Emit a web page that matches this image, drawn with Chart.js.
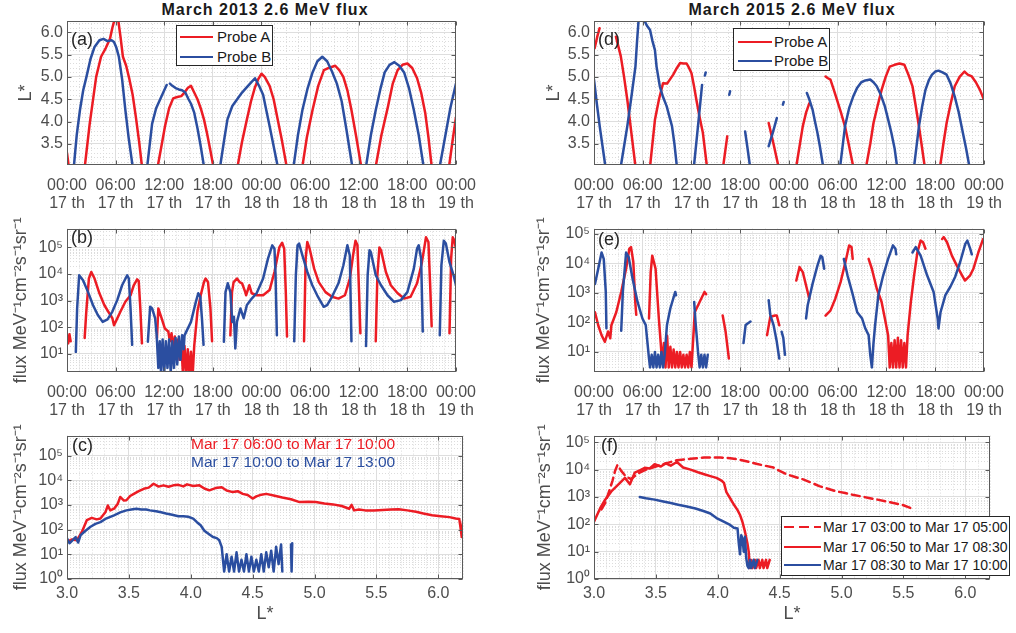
<!DOCTYPE html>
<html>
<head>
<meta charset="utf-8">
<title>March 2013 / March 2015 2.6 MeV flux</title>
<script src="https://cdn.jsdelivr.net/npm/chart.js@4.4.1/dist/chart.umd.min.js"></script>
<style>
  html, body { margin: 0; padding: 0; background: #fff; }
  body { width: 1016px; height: 633px; position: relative; overflow: hidden;
         font-family: "Liberation Sans", Arial, Helvetica, sans-serif; }
  .panel { position: absolute; }
  .title { position: absolute; top: 0; width: 420px; height: 20px; line-height: 20px; text-align: center;
           font-weight: bold; font-size: 16px; letter-spacing: 1px; color: #1a1a1a; }
  .tag { position: absolute; font-size: 18px; line-height: 21px; color: #262626; z-index: 2; }
  .legend { position: absolute; background: #fff; border: 1px solid #262626; box-sizing: border-box; z-index: 3; }
  .legend .sw { position: absolute; height: 2px; }
  .legend .lb { position: absolute; line-height: 18px; color: #1a1a1a; white-space: nowrap; }
  .note { position: absolute; font-size: 15.5px; line-height: 18px; white-space: nowrap; z-index: 2; }
</style>
</head>
<body>

<div class="title" style="left:55px;">March 2013 2.6 MeV flux</div>
<div class="title" style="left:582px;">March 2015 2.6 MeV flux</div>

<div class="panel" style="left:0;top:0;width:488px;height:215px;"><canvas id="chartA"></canvas></div>
<div class="panel" style="left:0;top:215px;width:488px;height:207px;"><canvas id="chartB"></canvas></div>
<div class="panel" style="left:0;top:422px;width:488px;height:211px;"><canvas id="chartC"></canvas></div>
<div class="panel" style="left:510px;top:0;width:506px;height:215px;"><canvas id="chartD"></canvas></div>
<div class="panel" style="left:510px;top:215px;width:506px;height:207px;"><canvas id="chartE"></canvas></div>
<div class="panel" style="left:510px;top:422px;width:506px;height:211px;"><canvas id="chartF"></canvas></div>

<div class="tag" style="left:71px;top:29px;">(a)</div>
<div class="tag" style="left:71px;top:227px;">(b)</div>
<div class="tag" style="left:72px;top:435px;">(c)</div>
<div class="tag" style="left:598px;top:29px;">(d)</div>
<div class="tag" style="left:598px;top:229px;">(e)</div>
<div class="tag" style="left:601px;top:435px;">(f)</div>

<div class="legend" style="left:176px;top:25px;width:97px;height:41px;">
  <div class="sw" style="left:3px;top:10px;width:33px;background:#ec1c24;"></div>
  <div class="lb" style="left:40px;top:2px;font-size:15px;">Probe A</div>
  <div class="sw" style="left:3px;top:30px;width:33px;background:#2b4ea0;"></div>
  <div class="lb" style="left:40px;top:22px;font-size:15px;">Probe B</div>
</div>
<div class="legend" style="left:733px;top:28px;width:97px;height:43px;">
  <div class="sw" style="left:4px;top:12px;width:34px;background:#ec1c24;"></div>
  <div class="lb" style="left:40px;top:4px;font-size:15px;">Probe A</div>
  <div class="sw" style="left:4px;top:31px;width:34px;background:#2b4ea0;"></div>
  <div class="lb" style="left:40px;top:23px;font-size:15px;">Probe B</div>
</div>
<div class="legend" style="left:781px;top:516px;width:229px;height:60px;">
  <div class="sw" style="left:2px;top:9px;width:37px;background:repeating-linear-gradient(90deg,#ec1c24 0 10px,transparent 10px 15px);"></div>
  <div class="lb" style="left:41px;top:1px;font-size:14px;">Mar 17 03:00 to Mar 17 05:00</div>
  <div class="sw" style="left:2px;top:29px;width:37px;background:#ec1c24;"></div>
  <div class="lb" style="left:41px;top:21px;font-size:14px;">Mar 17 06:50 to Mar 17 08:30</div>
  <div class="sw" style="left:2px;top:47px;width:37px;background:#2b4ea0;"></div>
  <div class="lb" style="left:41px;top:39px;font-size:14px;">Mar 17 08:30 to Mar 17 10:00</div>
</div>

<div class="note" style="left:191px;top:435px;color:#ec1c24;">Mar 17 06:00 to Mar 17 10:00</div>
<div class="note" style="left:191px;top:453px;color:#2b4ea0;">Mar 17 10:00 to Mar 17 13:00</div>

<script>
// ========= Data =========
// hours since Mar 17 00:00 vs L*; null = gap in the trace
const aProbeA = [[0, 3.3], [0.25, 2.95], null,
  [2.2, 3.0], [2.8, 3.95], [3.6, 5.0], [4.2, 5.45], [4.8, 5.65], [5.3, 5.85], [5.6, 6.1], [5.9, 6.3], [6.3, 6.3], [6.6, 5.9], [6.9, 5.45], [7.3, 5.25], [7.7, 4.95], [8.1, 4.6], [8.5, 4.1], [8.9, 3.55], [9.25, 3.0], null,
  [11.2, 3.0], [11.7, 3.5], [12.1, 3.9], [12.6, 4.3], [13.1, 4.52], [13.6, 4.55], [14.1, 4.57], [14.5, 4.65], [14.9, 4.75], [15.3, 4.8], [15.7, 4.65], [16.1, 4.5], [16.5, 4.3], [16.9, 4.05], [17.3, 3.72], [17.7, 3.35], [18.06, 3.0], null,
  [21.05, 3.0], [21.6, 3.55], [22.2, 4.05], [22.7, 4.45], [23.2, 4.77], [23.6, 4.95], [24.0, 5.07], [24.4, 5.0], [24.7, 4.9], [25.0, 4.8], [25.5, 4.5], [26.0, 4.05], [26.5, 3.6], [27.1, 3.0], null,
  [29.05, 3.0], [29.6, 3.65], [30.3, 4.26], [31.0, 4.8], [31.7, 5.15], [32.3, 5.2], [33.1, 5.25], [33.6, 5.15], [34.1, 5.0], [34.6, 4.7], [35.1, 4.26], [35.7, 3.65], [36.3, 3.0], null,
  [38.1, 3.0], [38.8, 3.7], [39.6, 4.33], [40.2, 4.85], [40.8, 5.15], [41.4, 5.27], [42.0, 5.3], [42.6, 5.2], [43.2, 4.97], [43.7, 4.65], [44.2, 4.2], [44.6, 3.65], [45.0, 3.0], null,
  [47.15, 3.0], [47.6, 3.6], [48.0, 4.1]];
const aProbeB = [[0.85, 3.0], [1.2, 3.7], [1.6, 4.26], [2.0, 4.7], [2.4, 5.0], [2.9, 5.4], [3.4, 5.67], [4.0, 5.82], [4.5, 5.85], [5.0, 5.8], [5.5, 5.82], [5.8, 5.78], [6.1, 5.65], [6.4, 5.45], [6.8, 4.95], [7.2, 4.26], [7.6, 3.65], [8.1, 3.0], null,
  [9.9, 3.0], [10.5, 3.95], [11.0, 4.3], [11.5, 4.5], [12.0, 4.7], [12.3, 4.82], null,
  [12.7, 4.85], [13.0, 4.8], [13.4, 4.75], [13.8, 4.72], [14.2, 4.7], [14.6, 4.65], [15.0, 4.5], [15.3, 4.4], [15.7, 4.2], [16.1, 3.85], [16.5, 3.45], [16.9, 3.0], null,
  [18.9, 3.0], [19.4, 3.6], [19.8, 4.05], [20.4, 4.35], [21.0, 4.5], [21.6, 4.65], [22.2, 4.77], [22.7, 4.87], [23.2, 4.97], [23.7, 4.8], [24.2, 4.6], [24.6, 4.25], [25.0, 3.9], [25.5, 3.45], [26.0, 3.0], null,
  [27.96, 3.0], [28.5, 3.7], [29.05, 4.26], [29.7, 4.75], [30.3, 5.1], [30.9, 5.35], [31.5, 5.45], [32.1, 5.35], [32.7, 5.12], [33.3, 4.85], [33.9, 4.45], [34.5, 3.8], [35.2, 3.0], null,
  [36.9, 3.0], [37.5, 3.7], [38.1, 4.26], [38.7, 4.75], [39.2, 5.1], [39.8, 5.27], [40.4, 5.33], [41.0, 5.25], [41.6, 5.1], [42.2, 4.75], [42.8, 4.26], [43.4, 3.7], [44.0, 3.0], null,
  [46.0, 3.0], [46.6, 3.6], [47.3, 4.3], [48.0, 4.85]];

// hours vs flux (MeV-1 cm-2 s-1 sr-1), March 2013
const bProbeA = [[0, 40], [0.15, 25], [0.3, 55], [0.45, 30], null,
  [2.18, 40], [2.38, 390], [2.7, 6800], [3.0, 12000], [3.4, 6800], [4.0, 1900], [4.6, 690], [5.2, 340], [5.6, 220], [5.8, 120], [6.0, 160], [6.6, 390], [7.2, 910], [7.84, 1600], [8.24, 3800], [8.65, 6300], [8.85, 5500], [9.05, 510], [9.25, 25], null,
  [11.1, 40], [11.27, 510], [11.67, 220], [12.08, 90], [12.5, 70], [12.7, 30], [12.9, 60], [13.1, 15], [13.3, 45], [13.5, 10], [13.7, 35], [13.9, 6], [14.1, 25], [14.3, 2], [14.5, 20], [14.7, 1.5], [14.9, 15], [15.1, 1.5], [15.3, 12], [15.5, 1.5], [15.7, 20],
  [16.1, 400], [16.5, 1600], [16.9, 5000], [17.1, 6800], [17.4, 5000], [17.7, 510], [17.9, 30], null,
  [20.16, 50], [20.36, 2100], [20.56, 5000], [20.97, 6800], [21.3, 5000], [21.6, 4500], [22.0, 2100], [22.1, 1600], [22.5, 3800], [22.8, 1900], [23.4, 1600], [24.2, 1600], [25.0, 2500], [25.6, 12000], [26.2, 100000], [26.55, 150000], [26.8, 90000], [27.0, 2100], [27.15, 45], null,
  [29.25, 30], [29.45, 38000], [29.65, 160000], [29.94, 90000], [30.5, 16000], [31.07, 5000], [31.9, 2100], [32.7, 1400], [33.5, 1200], [34.3, 1600], [34.9, 6800], [35.3, 50000], [35.6, 180000], [35.84, 120000], [36.04, 2100], [36.2, 60], null,
  [38.1, 30], [38.3, 9000], [38.55, 100000], [38.75, 78000], [39.35, 12000], [39.96, 3800], [40.8, 1900], [41.6, 1200], [42.4, 1400], [43.2, 4500], [43.8, 28000], [44.3, 240000], [44.6, 160000], [44.8, 5000], [45.0, 110], null,
  [47.2, 60], [47.4, 38000], [47.6, 240000], [47.8, 180000], [48.0, 90000]];
const bProbeB = [[1.09, 12], [1.25, 510], [1.5, 9000], [1.6, 9000], [1.98, 5900], [2.6, 2100], [3.2, 690], [3.8, 290], [4.4, 160], [5.0, 200], [5.6, 390], [6.2, 1050], [6.8, 3800], [7.43, 9000], [7.63, 6800], [7.84, 510], [8.04, 22], null,
  [9.98, 29], [10.26, 590], [10.5, 510], [10.87, 220], [11.07, 50], [11.27, 3], [11.45, 30], [11.6, 2], [11.8, 35], [12.0, 2], [12.2, 30], [12.4, 3], [12.6, 35], [12.8, 2], [13.0, 30], [13.2, 3], [13.4, 40], [13.6, 4], [13.8, 45], [14.0, 6], [14.2, 50], [14.4, 15], [14.5, 50],
  [15.3, 160], [15.9, 900], [16.2, 1900], [16.45, 1400], [16.65, 220], [16.85, 22], null,
  [19.36, 29], [19.56, 2100], [19.84, 4500], [20.16, 2100], [20.4, 160], [20.6, 250], [20.77, 16], [20.97, 160], [21.4, 510], [21.8, 220], [22.2, 690], [22.8, 1200], [23.4, 1900], [24.2, 6800], [24.8, 38000], [25.33, 120000], [25.6, 90000], [25.73, 11000], [25.9, 50], null,
  [28.04, 30], [28.24, 9000], [28.45, 120000], [28.64, 140000], [29.05, 50000], [29.66, 12000], [30.27, 3800], [30.87, 1600], [31.68, 590], [32.1, 680], [32.7, 1400], [33.5, 4500], [34.1, 21000], [34.6, 120000], [34.9, 50000], [35.1, 30], null,
  [36.9, 20], [37.1, 9000], [37.33, 78000], [37.5, 66000], [38.1, 9000], [38.75, 3800], [39.55, 1600], [40.36, 910], [41.2, 1050], [42.0, 2100], [42.8, 16000], [43.2, 90000], [43.4, 120000], [43.7, 38000], [43.9, 70], null,
  [46.0, 50], [46.2, 21000], [46.5, 180000], [46.75, 140000], [47.2, 28000], [47.7, 9000], [48.0, 3800]];

// L* vs flux, March 2013
const cEarly = [[3.0, 32], [3.04, 40], [3.08, 37], [3.12, 80], [3.16, 240], [3.2, 300], [3.24, 260], [3.27, 280], [3.31, 500], [3.33, 950], [3.35, 600], [3.38, 700], [3.41, 1100], [3.43, 2100], [3.46, 1500], [3.48, 1550], [3.51, 2300], [3.54, 2800], [3.58, 3600], [3.62, 4500], [3.66, 5000], [3.7, 7200], [3.74, 5500], [3.78, 6200], [3.82, 5400], [3.86, 6200], [3.9, 6500], [3.94, 5600], [3.97, 6800], [4.02, 5800], [4.07, 6200], [4.11, 4600], [4.15, 3900], [4.2, 4800], [4.25, 5200], [4.29, 3800], [4.34, 3300], [4.38, 3600], [4.42, 2800], [4.46, 2500], [4.5, 1800], [4.53, 2200], [4.56, 2500], [4.61, 2800], [4.67, 2400], [4.74, 2000], [4.81, 1700], [4.88, 1300], [4.95, 1350], [5.01, 1300], [5.08, 1150], [5.15, 1050], [5.22, 900], [5.28, 700], [5.3, 1000], [5.32, 600], [5.36, 650], [5.41, 600], [5.48, 600], [5.55, 620], [5.62, 650], [5.68, 670], [5.75, 600], [5.82, 530], [5.88, 450], [5.95, 380], [6.02, 350], [6.09, 320], [6.14, 280], [6.17, 270], [6.18, 120], [6.19, 50], [6.2, 220]];
const cLate = [[3.0, 44], [3.02, 28], [3.04, 35], [3.07, 50], [3.09, 30], [3.11, 60], [3.15, 90], [3.19, 130], [3.23, 170], [3.27, 200], [3.31, 270], [3.35, 330], [3.38, 380], [3.43, 500], [3.48, 600], [3.52, 650], [3.56, 700], [3.6, 650], [3.64, 650], [3.67, 600], [3.72, 550], [3.76, 500], [3.8, 450], [3.85, 400], [3.9, 350], [3.94, 350], [3.98, 330], [4.02, 280], [4.05, 200], [4.08, 150], [4.11, 90], [4.14, 70], [4.18, 50], [4.21, 45], [4.23, 37], [4.25, 20],
  [4.27, 2], [4.29, 10], [4.31, 2], [4.33, 8], [4.35, 2], [4.37, 12], [4.39, 2], [4.41, 6], [4.43, 2], [4.45, 10], [4.47, 2], [4.49, 8], [4.51, 2], [4.53, 6], [4.55, 2], [4.57, 10], [4.59, 2], [4.61, 12], [4.63, 3], [4.65, 14], [4.67, 2], [4.69, 20], [4.71, 4], [4.73, 25], [4.74, 2], null,
  [4.81, 25], [4.815, 2], [4.82, 28]];

// hours vs L*, March 2015
const dProbeA = [[0.08, 5.64], [0.4, 5.9], [0.69, 6.09], null,
  [2.7, 5.9], [3.3, 5.46], [3.7, 5.0], [4.1, 4.49], [4.6, 3.75], [5.1, 3.0], null,
  [6.9, 3.0], [7.5, 4.04], [8.0, 4.5], [8.5, 4.86], [9.0, 4.85], [9.75, 5.05], [10.2, 5.2], [10.6, 5.31], [11.0, 5.3], [11.4, 5.3], [11.7, 5.2], [12.0, 5.08], [12.3, 4.8], [12.6, 4.49], [13.0, 4.1], [13.4, 3.75], [13.9, 3.0], null,
  [15.9, 3.0], [16.4, 3.67], null,
  [21.5, 3.97], [22.1, 3.5], [22.7, 3.0], null,
  [24.9, 3.0], [25.3, 3.45], [25.7, 3.9], [26.1, 4.2], [26.5, 4.41], null,
  [28.5, 5.01], [28.8, 4.97], [29.1, 4.94], [29.5, 4.72], [29.9, 4.49], [30.4, 4.2], [30.9, 3.89], [31.4, 3.45], [31.9, 3.0], null,
  [33.5, 3.0], [34.0, 3.5], [34.4, 3.97], [34.9, 4.35], [35.4, 4.71], [35.9, 5.0], [36.4, 5.23], [37.0, 5.27], [37.6, 5.3], [38.2, 5.27], [38.7, 5.05], [39.2, 4.79], [39.6, 4.35], [40.0, 3.89], [40.35, 3.45], [40.7, 3.0], null,
  [42.6, 3.0], [43.0, 3.5], [43.4, 3.97], [43.9, 4.4], [44.4, 4.79], [45.0, 5.0], [45.6, 5.12], [46.0, 5.05], [46.5, 5.01], [47.0, 4.88], [47.5, 4.71], [48.0, 4.49]];
const dProbeB = [[0, 4.94], [0.35, 4.4], [0.7, 3.9], [1.05, 3.45], [1.4, 3.0], null,
  [3.3, 3.0], [3.7, 3.45], [4.1, 3.9], [4.6, 4.55], [5.1, 5.23], [5.3, 5.8], [5.5, 6.3], [6.1, 6.3], [6.5, 6.15], [6.9, 6.05], [7.2, 5.8], [7.5, 5.6], [7.7, 5.23], [8.1, 4.79], [8.5, 4.55], [8.95, 4.34], [9.3, 4.1], [9.6, 3.9], [9.9, 3.5], [10.2, 3.0], null,
  [12.3, 3.0], [12.8, 3.9], [13.3, 4.82], null,
  [13.65, 5.03], [13.75, 5.1], null,
  [16.65, 4.6], [16.75, 4.68], null,
  [18.6, 3.78], [18.9, 3.4], [19.2, 3.0], null,
  [21.5, 3.45], [22.0, 3.75], [22.5, 4.08], null,
  [23.25, 4.38], [23.35, 4.44], null,
  [26.2, 4.64], [26.5, 4.5], [26.9, 4.27], [27.2, 4.0], [27.5, 3.75], [27.8, 3.45], [28.2, 3.0], null,
  [30.3, 3.0], [30.6, 3.45], [30.9, 3.9], [31.4, 4.3], [31.9, 4.56], [32.4, 4.76], [32.9, 4.88], [33.4, 4.92], [34.0, 4.94], [34.4, 4.88], [34.8, 4.79], [35.3, 4.6], [35.8, 4.34], [36.2, 4.05], [36.6, 3.75], [37.0, 3.4], [37.3, 3.0], null,
  [39.4, 3.0], [39.7, 3.45], [40.0, 3.9], [40.4, 4.35], [40.8, 4.71], [41.2, 4.92], [41.6, 5.05], [42.0, 5.12], [42.4, 5.14], [42.9, 5.1], [43.4, 5.05], [43.9, 4.85], [44.4, 4.56], [44.9, 4.2], [45.4, 3.75], [45.8, 3.4], [46.2, 3.0]];

// hours vs flux, March 2015
const eProbeA = [[0.12, 220], [0.52, 80], [0.93, 37], [1.33, 22], [1.73, 49], [2.0, 29], [2.14, 80], [2.74, 220], [3.35, 1070], [3.95, 6500], [4.35, 31000], [4.56, 35000], [4.84, 11000], [5.08, 490], [5.2, 180], null,
  [6.77, 135], [6.98, 5000], [7.17, 18000], [7.58, 6500], [7.98, 135], [8.2, 22], [8.4, 4], [8.6, 20], [8.8, 3], [9.0, 35], [9.2, 3], [9.4, 15], [9.6, 3], [9.8, 12], [10.0, 3], [10.2, 10], [10.4, 3], [10.6, 10], [10.8, 3], [11.0, 8], [11.2, 3], [11.4, 8], [11.6, 3], [11.8, 10], [12.0, 3], [12.2, 25], [12.4, 220], [13.0, 490], [13.6, 1070], [13.8, 900], null,
  [15.84, 170], [16.2, 48], [16.6, 6], null,
  [21.3, 37], [21.7, 155], [22.3, 170], [22.5, 170], [22.8, 80], null,
  [24.9, 2600], [25.3, 7400], [25.7, 5000], [26.3, 1070], [26.5, 630], null,
  [28.5, 170], [29.1, 250], [29.7, 630], [30.35, 2300], [30.95, 11000], [31.4, 40000], [31.7, 35000], [31.84, 14000], null,
  [33.8, 14000], [34.2, 6500], [34.8, 1400], [35.4, 490], [35.8, 135], [36.2, 37], [36.4, 3], [36.6, 20], [36.8, 3], [37.0, 25], [37.2, 3], [37.4, 30], [37.6, 3], [37.8, 25], [38.0, 3], [38.2, 20], [38.4, 3], [38.6, 37], [39.0, 490], [39.4, 3900], [39.8, 23000], [40.2, 58000], [40.5, 51000], [40.8, 31000], null,
  [42.85, 66000], [43.05, 76000], [43.45, 51000], [44.05, 18000], [44.66, 8300], [45.3, 3900], [45.66, 2600], [46.3, 3900], [46.7, 6500], [47.3, 23000], [47.9, 66000], [48.0, 70000]];
const eProbeB = [[0.12, 2000], [0.52, 6500], [0.93, 23000], [1.2, 14000], [1.45, 1070], [1.53, 63], null,
  [3.35, 52], [3.55, 1070], [3.95, 23000], [4.27, 16000], [4.75, 3000], [5.36, 490], [5.96, 135], [6.37, 81], [6.77, 6], [6.9, 3], [7.1, 8], [7.3, 3], [7.5, 10], [7.7, 3], [7.9, 8], [8.1, 3], [8.3, 10], [8.5, 3], [8.7, 8], [8.98, 81], [9.4, 300], [10.0, 1070], [10.1, 830], null,
  [12.33, 490], [12.5, 100], [12.8, 10], [13.0, 3], [13.2, 8], [13.4, 3], [13.6, 8], [13.8, 3], [14.0, 8], null,
  [18.4, 20], [18.66, 81], [19.26, 107], null,
  [21.5, 560], [21.7, 180], [22.1, 81], [22.5, 22], [22.8, 6], null,
  [23.1, 48], [23.3, 30], [23.5, 8], null,
  [26.1, 135], [26.3, 380], [26.9, 2000], [27.5, 8300], [27.9, 18000], [28.1, 16000], [28.33, 6500], null,
  [30.75, 14000], [31.2, 3900], [31.76, 1070], [32.4, 220], [33.0, 135], [33.4, 62], [33.8, 37], [34.0, 8], [34.2, 3], [34.4, 20], [34.6, 81], [35.0, 830], [35.6, 3900], [36.2, 14000], [36.8, 40000], [37.1, 31000], [37.2, 20000], null,
  [39.2, 23000], [39.6, 35000], [40.2, 18000], [41.0, 3900], [41.8, 1070], [42.3, 135], [42.4, 62], [42.65, 220], [43.25, 830], [43.86, 1600], [44.46, 3500], [45.07, 11000], [45.7, 45000], [45.95, 58000], [46.3, 31000], [46.5, 20000]];

// L* vs flux, March 2015
const fDashed = [[3.06, 350], [3.09, 600], [3.12, 1500], [3.15, 4000], [3.17, 8900], [3.19, 15000], [3.22, 9000], [3.26, 5500], [3.3, 4500], [3.35, 7000], [3.42, 10000], [3.5, 13000], [3.58, 17000], [3.67, 22000], [3.78, 25000], [3.89, 28000], [4.02, 28000], [4.1, 26000], [4.16, 24000], [4.24, 20000], [4.32, 16000], [4.38, 14000], [4.45, 12000], [4.5, 9000], [4.56, 6700], [4.62, 5500], [4.69, 4400], [4.76, 3300], [4.82, 2500], [4.89, 2000], [4.96, 1600], [5.03, 1400], [5.09, 1200], [5.16, 1050], [5.22, 920], [5.29, 800], [5.36, 690], [5.42, 600], [5.49, 520], [5.56, 390], [5.58, 360]];
const fSolid = [[3.0, 125], [3.05, 390], [3.09, 800], [3.14, 1600], [3.21, 3300], [3.25, 5000], [3.29, 2900], [3.33, 7800], [3.37, 9500], [3.41, 11700], [3.45, 11000], [3.49, 15800], [3.54, 13000], [3.58, 17000], [3.62, 14000], [3.67, 19000], [3.72, 12000], [3.78, 10000], [3.84, 8000], [3.89, 6800], [3.94, 5800], [3.99, 5000], [4.03, 4000], [4.05, 3300], [4.07, 1500], [4.1, 900], [4.13, 530], [4.16, 330], [4.18, 220], [4.2, 120], [4.22, 54], [4.24, 20], [4.25, 10], [4.26, 2.5], [4.27, 5], [4.28, 2.5], [4.3, 5], [4.31, 2.5], [4.33, 5], [4.34, 2.5], [4.36, 5], [4.37, 2.5], [4.39, 5], [4.4, 2.5], [4.42, 5]];
const fBlue = [[3.37, 1000], [3.42, 900], [3.49, 800], [3.55, 700], [3.62, 600], [3.68, 520], [3.75, 450], [3.82, 380], [3.89, 300], [3.94, 250], [3.99, 170], [4.04, 130], [4.1, 95], [4.13, 75], [4.16, 70], [4.17, 20], [4.18, 8], [4.19, 40], [4.2, 30], [4.21, 10], [4.22, 35], [4.23, 6], [4.24, 3], [4.25, 2.5], [4.26, 5], [4.27, 2.5], [4.29, 5], [4.3, 2.5], [4.32, 5]];

// tick labels
const timeTickHours = [0, 6, 12, 18, 24, 30, 36, 42, 48];
const timeTickLabels = ["00:00", "06:00", "12:00", "18:00", "00:00", "06:00", "12:00", "18:00", "00:00"];
const dayTickLabels = ["17 th", "17 th", "17 th", "17 th", "18 th", "18 th", "18 th", "18 th", "19 th"];
const lstarTicks = [3.5, 4.0, 4.5, 5.0, 5.5, 6.0];
const lstarXTicks = [3.0, 3.5, 4.0, 4.5, 5.0, 5.5, 6.0];
const fluxExpB = [1, 2, 3, 4, 5];
const fluxExpC = [0, 1, 2, 3, 4, 5];

// ========= Styling =========
const RED = "#ec1c24";
const BLUE = "#2b4ea0";
const TICK_COLOR = "#4d4d4d";
const MAJOR_GRID = "#dedede";
const LINE_W = 2.5;
const SUP = { "0": "\u2070", "1": "\u00b9", "2": "\u00b2", "3": "\u00b3", "4": "\u2074", "5": "\u2075" };
const FLUX_TITLE = "flux MeV\u207b\u00b9cm\u207b\u00b2s\u207b\u00b9sr\u207b\u00b9";

Chart.defaults.font.family = '"Liberation Sans", Arial, Helvetica, sans-serif';
Chart.defaults.color = TICK_COLOR;

function toPoints(pairs) {
  let last = 0;
  return pairs.map(p => {
    if (!p) return { x: last, y: null };
    last = p[0];
    return { x: p[0], y: p[1] };
  });
}

function series(pairs, color, dash) {
  return {
    data: toPoints(pairs), borderColor: color, borderWidth: LINE_W, borderDash: dash || [],
    borderJoinStyle: "round", borderCapStyle: "round",
    pointRadius: 0, tension: 0, spanGaps: false, fill: false
  };
}

// minor grid positions (dotted), skipping the major ones
function minorLinear(min, max, step, major) {
  const out = [];
  for (let i = 0; min + i * step <= max + 1e-9; i++) {
    const v = Math.round((min + i * step) * 1000) / 1000;
    if (Math.abs(v / major - Math.round(v / major)) > 1e-6) out.push(v);
  }
  return out;
}
function minorLog(min, max) {
  const out = [];
  for (let e = Math.floor(Math.log10(min)); e <= Math.ceil(Math.log10(max)); e++) {
    for (let k = 2; k <= 9; k++) {
      const v = k * Math.pow(10, e);
      if (v > min && v < max) out.push(v);
    }
  }
  return out;
}

// grid dots under the data, box and inward ticks on top
const framePlugin = {
  id: "frame",
  beforeDatasetsDraw(chart, args, opts) {
    const { ctx, chartArea: a, scales } = chart;
    ctx.save();
    ctx.strokeStyle = "#dcdcdc";
    ctx.lineWidth = 1;
    ctx.setLineDash([1, 2]);
    (opts.minorX || []).forEach(v => {
      const px = Math.round(scales.x.getPixelForValue(v)) + 0.5;
      ctx.beginPath(); ctx.moveTo(px, a.top); ctx.lineTo(px, a.bottom); ctx.stroke();
    });
    (opts.minorY || []).forEach(v => {
      const py = Math.round(scales.y.getPixelForValue(v)) + 0.5;
      ctx.beginPath(); ctx.moveTo(a.left, py); ctx.lineTo(a.right, py); ctx.stroke();
    });
    ctx.restore();
  },
  afterDatasetsDraw(chart) {
    const { ctx, chartArea: a, scales } = chart;
    ctx.save();
    ctx.strokeStyle = "#5a5a5a";
    ctx.lineWidth = 1;
    const l = Math.round(a.left) + 0.5, r = Math.round(a.right) - 0.5;
    const t = Math.round(a.top) + 0.5, b = Math.round(a.bottom) - 0.5;
    ctx.strokeRect(l, t, r - l, b - t);
    ctx.beginPath();
    scales.x.ticks.forEach(tk => {
      const px = Math.round(scales.x.getPixelForValue(tk.value)) + 0.5;
      ctx.moveTo(px, b); ctx.lineTo(px, b - 4);
      ctx.moveTo(px, t); ctx.lineTo(px, t + 4);
    });
    scales.y.ticks.forEach(tk => {
      const py = Math.round(scales.y.getPixelForValue(tk.value)) + 0.5;
      ctx.moveTo(l, py); ctx.lineTo(l + 4, py);
      ctx.moveTo(r, py); ctx.lineTo(r - 4, py);
    });
    ctx.stroke();
    ctx.restore();
  }
};

// ========= Axes =========
function timeAxis() {
  return {
    type: "linear", min: 0, max: 48, bounds: "data",
    afterBuildTicks: s => { s.ticks = timeTickHours.map(v => ({ value: v })); },
    afterFit: s => { s.height = 50; },
    ticks: {
      autoSkip: false, maxRotation: 0, minRotation: 0, padding: 12,
      color: TICK_COLOR, font: { size: 16, lineHeight: 1.1 },
      callback: (v, i) => [timeTickLabels[i], dayTickLabels[i]]
    },
    grid: { drawTicks: false, color: MAJOR_GRID },
    border: { display: false }
  };
}

function lstarXAxis() {
  return {
    type: "linear", min: 3, max: 6.2, bounds: "data",
    afterBuildTicks: s => { s.ticks = lstarXTicks.map(v => ({ value: v })); },
    afterFit: s => { s.height = 54; },
    ticks: { autoSkip: false, maxRotation: 0, padding: 5, color: TICK_COLOR, font: { size: 16 }, callback: v => v.toFixed(1) },
    title: { display: true, text: "L*", color: TICK_COLOR, font: { size: 18 }, padding: { top: 0, bottom: 8 } },
    grid: { drawTicks: false, color: MAJOR_GRID },
    border: { display: false }
  };
}

function lstarYAxis(width) {
  return {
    type: "linear", min: 3.03, max: 6.25, bounds: "data",
    afterBuildTicks: s => { s.ticks = lstarTicks.map(v => ({ value: v })); },
    afterFit: s => { s.width = width; },
    ticks: { padding: 4, color: TICK_COLOR, font: { size: 16 }, callback: v => v.toFixed(1) },
    title: { display: true, text: "L*", color: TICK_COLOR, font: { size: 18 } },
    grid: { drawTicks: false, color: MAJOR_GRID },
    border: { display: false }
  };
}

function fluxAxis(width, min, max, exps) {
  return {
    type: "logarithmic", min: min, max: max, bounds: "data",
    afterBuildTicks: s => { s.ticks = exps.map(e => ({ value: Math.pow(10, e) })); },
    afterFit: s => { s.width = width; },
    ticks: { padding: 4, color: TICK_COLOR, font: { size: 16 }, callback: v => "10" + SUP[String(Math.round(Math.log10(v)))] },
    title: { display: true, text: FLUX_TITLE, color: TICK_COLOR, font: { size: 18 } },
    grid: { drawTicks: false, color: MAJOR_GRID },
    border: { display: false }
  };
}

function makePanel(id, datasets, xAxis, yAxis, padding, minorX, minorY) {
  return new Chart(document.getElementById(id), {
    type: "line",
    data: { datasets: datasets },
    options: {
      responsive: true, maintainAspectRatio: false, animation: false, events: [],
      layout: { padding: padding },
      scales: { x: xAxis, y: yAxis },
      plugins: { legend: { display: false }, tooltip: { enabled: false }, frame: { minorX: minorX, minorY: minorY } }
    },
    plugins: [framePlugin]
  });
}

// ========= Panels =========
const timeMinor = minorLinear(0, 48, 1.5, 6);
const lstarMinor = minorLinear(3.1, 6.2, 0.1, 0.5);
const lstarXMinor = minorLinear(3.0, 6.2, 0.1, 0.5);

makePanel("chartA", [series(aProbeB, BLUE), series(aProbeA, RED)],
  timeAxis(), lstarYAxis(56), { left: 11, top: 21, right: 25, bottom: 0 }, timeMinor, lstarMinor);

makePanel("chartB", [series(bProbeB, BLUE), series(bProbeA, RED)],
  timeAxis(), fluxAxis(61, 2.1, 5.1e5, fluxExpB), { left: 6, top: 13, right: 25, bottom: 0 }, timeMinor, minorLog(2.1, 5.1e5));

makePanel("chartC", [series(cLate, BLUE), series(cEarly, RED)],
  lstarXAxis(), fluxAxis(61, 1, 6.4e5, fluxExpC), { left: 6, top: 13, right: 25, bottom: 0 }, lstarXMinor, minorLog(1, 6.4e5));

makePanel("chartD", [series(dProbeB, BLUE), series(dProbeA, RED)],
  timeAxis(), lstarYAxis(55), { left: 29, top: 21, right: 25, bottom: 0 }, timeMinor, lstarMinor);

makePanel("chartE", [series(eProbeB, BLUE), series(eProbeA, RED)],
  timeAxis(), fluxAxis(65, 2.1, 1.48e5, fluxExpB), { left: 19, top: 13, right: 25, bottom: 0 }, timeMinor, minorLog(2.1, 1.48e5));

makePanel("chartF", [series(fBlue, BLUE), series(fSolid, RED), series(fDashed, RED, [8, 5])],
  lstarXAxis(), fluxAxis(64, 1, 1.76e5, fluxExpC), { left: 20, top: 13, right: 26, bottom: 0 }, lstarXMinor, minorLog(1, 1.76e5));
</script>
</body>
</html>
